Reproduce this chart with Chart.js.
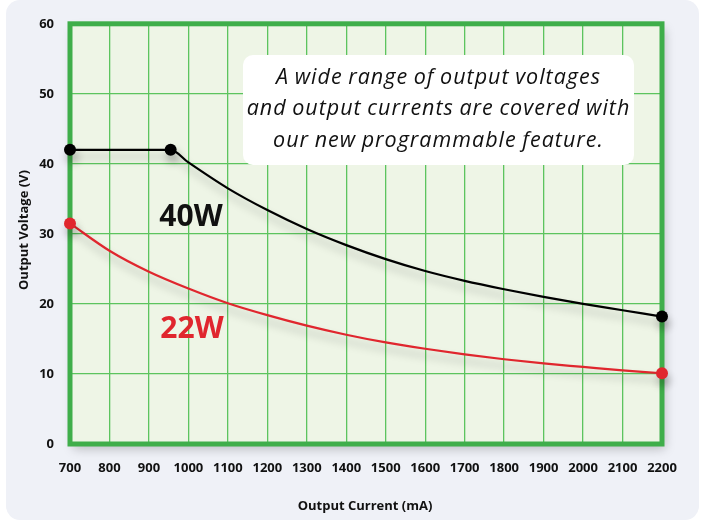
<!DOCTYPE html>
<html>
<head>
<meta charset="utf-8">
<script src="https://cdn.jsdelivr.net/npm/chart.js@4/dist/chart.umd.min.js"></script>
<style>
  html, body { margin: 0; padding: 0; background: #ffffff; }
  #wrap { position: absolute; left: 6px; top: 0; width: 693px; height: 520px; background: #eff1f7; border-radius: 14px; }
  #box { position: absolute; left: 0; top: 0; width: 701px; height: 525px; }
</style>
</head>
<body>
<div id="wrap"></div>
<div id="box"><canvas id="grafico" width="701" height="525"></canvas></div>
<script>
// corriente (mA) y tension (V)
const corriente40 = [700, 955, 1000, 1100, 1200, 1300, 1400, 1500, 1600, 1700, 1800, 1900, 2000, 2100, 2200];
const tension40   = [42, 42, 40.2, 36.5, 33.4, 30.7, 28.4, 26.4, 24.7, 23.3, 22.1, 21, 20, 19.1, 18.2];
const corriente22 = [700, 800, 900, 1000, 1100, 1200, 1300, 1400, 1500, 1600, 1700, 1800, 1900, 2000, 2100, 2200];
const tension22   = [31.5, 27.6, 24.6, 22.2, 20.1, 18.4, 16.9, 15.6, 14.5, 13.6, 12.8, 12.1, 11.5, 11, 10.5, 10.1];
const puntos40 = [700, 955, 2200];   // marcadores visibles
const puntos22 = [700, 2200];
const etiquetaX = 'Output Current (mA)';
const etiquetaY = 'Output Voltage (V)';
const nota = ['A wide range of output voltages', 'and output currents are covered with', 'our new programmable feature.'];

function serie(xs, ys) { return xs.map((x, i) => ({ x: x, y: ys[i] })); }
function radios(xs, visibles) { return xs.map(x => visibles.includes(x) ? 6 : 0); }

const verde = '#3fae4a';
const fuenteEje = { family: '"Open Sans"', weight: 'bold', size: 13 };

// fondo del area, borde verde, sombras, textos
const decorado = {
  id: 'decorado',
  beforeDraw(chart) {
    const { ctx, chartArea: a } = chart;
    ctx.save();
    ctx.shadowColor = 'rgba(0,0,0,0.22)';
    ctx.shadowBlur = 10;
    ctx.shadowOffsetX = 3;
    ctx.shadowOffsetY = 5;
    ctx.fillStyle = '#eef5e6';
    ctx.fillRect(a.left, a.top, a.right - a.left, a.bottom - a.top);
    ctx.restore();
  },
  beforeDatasetsDraw(chart) {
    const { ctx, chartArea: a } = chart;
    ctx.save();
    ctx.strokeStyle = verde;
    ctx.lineWidth = 5;
    ctx.strokeRect(a.left, a.top, a.right - a.left, a.bottom - a.top);
    // recuadro de texto
    const bx = 243, by = 55, bw = 391, bh = 110, r = 10;
    ctx.fillStyle = '#ffffff';
    ctx.beginPath();
    ctx.roundRect(bx, by, bw, bh, r);
    ctx.fill();
    ctx.fillStyle = '#111111';
    ctx.font = 'italic 21.5px "Open Sans"';
    ctx.letterSpacing = '1px';
    ctx.wordSpacing = '-1px';
    ctx.textAlign = 'center';
    ctx.textBaseline = 'middle';
    nota.forEach((t, i) => ctx.fillText(t, bx + bw / 2, by + 22.5 + i * 31.5));
    ctx.letterSpacing = '0px';
    ctx.wordSpacing = '0px';
    // ejes
    ctx.font = 'bold 13px "Open Sans"';
    ctx.fillStyle = '#111111';
    ctx.fillText(etiquetaX, 365, 506);
    ctx.translate(24, 230);
    ctx.rotate(-Math.PI / 2);
    ctx.fillText(etiquetaY, 0, 0);
    ctx.restore();
    // sombra de las curvas
    ctx.save();
    ctx.shadowColor = 'rgba(0,0,0,0.28)';
    ctx.shadowBlur = 8;
    ctx.shadowOffsetX = 2;
    ctx.shadowOffsetY = 7;
  },
  afterDatasetsDraw(chart) {
    const { ctx } = chart;
    ctx.restore();
    ctx.save();
    ctx.textAlign = 'center';
    ctx.textBaseline = 'middle';
    ctx.font = 'bold 30px "Open Sans"';
    ctx.fillStyle = '#111111';
    ctx.fillText('40W', 191, 217);
    ctx.fillStyle = '#e0262e';
    ctx.fillText('22W', 192, 329);
    ctx.restore();
  }
};

new Chart(document.getElementById('grafico'), {
  type: 'line',
  data: {
    datasets: [
      { label: '40W', data: serie(corriente40, tension40), borderColor: '#000000', backgroundColor: '#000000',
        borderWidth: 2.2, pointRadius: radios(corriente40, puntos40), pointBorderWidth: 0,
        cubicInterpolationMode: 'monotone', clip: false },
      { label: '22W', data: serie(corriente22, tension22), borderColor: '#e0262e', backgroundColor: '#e0262e',
        borderWidth: 2.2, pointRadius: radios(corriente22, puntos22), pointBorderWidth: 0,
        cubicInterpolationMode: 'monotone', clip: false }
    ]
  },
  options: {
    responsive: false,
    animation: false,
    layout: { padding: { left: 0, top: 16, right: 39, bottom: 0 } },
    plugins: { legend: { display: false }, tooltip: { enabled: false } },
    scales: {
      x: {
        type: 'linear', min: 700, max: 2200,
        afterFit(s) { s.height = 81; },
        grid: { color: '#5cc45e', lineWidth: 1.3, drawTicks: false },
        border: { display: false },
        ticks: { stepSize: 100, autoSkip: false, maxRotation: 0, padding: 16, color: '#111111',
                 font: fuenteEje, callback: v => String(v) }
      },
      y: {
        min: 0, max: 60,
        afterFit(s) { s.width = 70; },
        grid: { color: '#5cc45e', lineWidth: 1.3, drawTicks: false },
        border: { display: false },
        ticks: { stepSize: 10, padding: 16, color: '#111111', font: fuenteEje }
      }
    }
  },
  plugins: [decorado]
});
</script>
</body>
</html>
